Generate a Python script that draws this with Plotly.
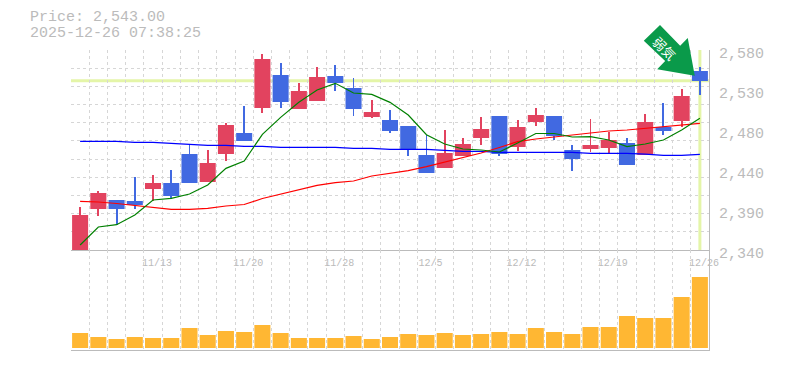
import plotly.graph_objects as go

title_price = "Price: 2,543.00"
title_time = "2025-12-26 07:38:25"
last_price = 2543
arrow_label = "弱気"

# candles: index along the time axis
candle_index = list(range(35))
opens = [2340, 2389.2, 2400, 2398.8, 2413.2, 2420.4, 2455.2, 2421.6, 2455.2, 2480.4,
         2510.4, 2550, 2509.2, 2518.8, 2548.8, 2534.4, 2499.6, 2496, 2488.8, 2454,
         2438.4, 2452.8, 2474.4, 2500.8, 2463.6, 2493.6, 2500.8, 2460, 2461.2, 2462.4,
         2468.4, 2454, 2487.6, 2494.8, 2554.8]
closes = [2382, 2408.4, 2389.2, 2394, 2420.4, 2404.8, 2420.4, 2444.4, 2490, 2470.8,
          2569.2, 2517.6, 2530.8, 2547.6, 2540.4, 2509.2, 2505.6, 2482.8, 2461.2, 2432.4,
          2456.4, 2467.2, 2485.2, 2455.2, 2487.6, 2502, 2476.8, 2449.2, 2466, 2472,
          2442, 2493.6, 2482.8, 2524.8, 2542.8]
highs = [2391.6, 2410.8, 2400, 2427.6, 2430, 2436, 2467.2, 2460, 2492.4, 2512.8,
         2575.2, 2564.4, 2540.4, 2559.6, 2562, 2546.4, 2520, 2508, 2488.8, 2478,
         2484, 2474.4, 2499.6, 2500.8, 2496, 2510.4, 2500.8, 2466, 2497.2, 2481.6,
         2474.4, 2503.2, 2516.4, 2533.2, 2559.6]
lows = [2340, 2380.8, 2370, 2389.2, 2398.8, 2401.2, 2420.4, 2421.6, 2446.8, 2470.8,
        2504.4, 2510.4, 2509.2, 2518.8, 2530.8, 2500.8, 2498.4, 2480.4, 2452.8, 2432.4,
        2438.4, 2452.8, 2466, 2452.8, 2458.8, 2488.8, 2472, 2434.8, 2457.6, 2455.2,
        2442, 2454, 2478, 2487.6, 2526]

ma_short = [2346, 2367.6, 2370.4, 2382, 2400, 2402, 2407.2, 2418, 2438, 2446.8,
            2478.8, 2499.2, 2517.2, 2532, 2540, 2528.4, 2526.8, 2517.2, 2502, 2478.4,
            2467.2, 2461.2, 2460, 2457.6, 2468.4, 2479.8, 2479.8, 2475.6, 2476, 2472,
            2464, 2467.2, 2472, 2484, 2498]
ma_mid = [2398.4, 2397.6, 2395.8, 2393.6, 2391.6, 2388.8, 2388.8, 2390, 2392.8, 2394.6,
          2401.8, 2407.2, 2412.6, 2417.6, 2420.8, 2422.8, 2428.8, 2431.6, 2435.2, 2440,
          2445.6, 2451.6, 2456.4, 2463, 2470, 2473.2, 2475.6, 2478, 2480, 2482.8,
          2484, 2486, 2488, 2490, 2492]
ma_long = [2470.4, 2470.4, 2470.4, 2469.2, 2469.2, 2468, 2466.8, 2465.6, 2465.6, 2464.4,
           2464.4, 2463.2, 2463.2, 2463.2, 2463.2, 2462, 2462, 2460.8, 2460.8, 2460.8,
           2459.6, 2458.4, 2458.4, 2457.2, 2457.2, 2457.2, 2457.2, 2457.2, 2456, 2456,
           2456, 2455, 2453.6, 2453.6, 2454.8]
volumes = [15000, 11000, 9000, 11000, 10000, 10000, 20000, 13000, 17000, 16000,
           23000, 15000, 10000, 10000, 10000, 12000, 9000, 11000,
           14000, 13000, 15000, 13000, 14000, 16000, 14000, 20000, 16000, 14000,
           21000, 21000, 32000, 30000, 30000, 51000, 71000]

date_positions = [4, 9, 14, 19, 24, 29, 34]
date_labels = ["11/13", "11/20", "11/28", "12/5", "12/12", "12/19", "12/26"]
price_ticks = [2580, 2532, 2484, 2436, 2388, 2340]
price_labels = ["2,580", "2,530", "2,480", "2,440", "2,390", "2,340"]
price_min, price_max = 2340, 2580
price_grid_count = 11

FONT = "Liberation Mono"
GREY = "#bbbbbb"
GRID = "#d6d6d6"
RED = "#e2435f"
BLUE = "#4169e1"
CROSS = "#e4f5a8"

x_grid = [i - 0.5 for i in range(36)]
y_grid = [price_min + (price_max - price_min) * i / price_grid_count for i in range(price_grid_count + 1)]
candle_colors = [RED if c >= o else BLUE for o, c in zip(opens, closes)]

fig = go.Figure()
for vals, col in [(ma_long, "#0000ff"), (ma_mid, "#ff0000"), (ma_short, "#008000")]:
    fig.add_trace(go.Scatter(x=candle_index, y=vals, mode="lines", line=dict(color=col, width=1.2),
                             xaxis="x", yaxis="y", showlegend=False, hoverinfo="skip"))
# wicks, then bodies
fig.add_trace(go.Bar(x=candle_index, base=lows, y=[h - l for h, l in zip(highs, lows)], width=0.05,
                     xaxis="x", yaxis="y", marker=dict(color=candle_colors, line=dict(width=0)), showlegend=False))
fig.add_trace(go.Bar(x=candle_index, base=[min(o, c) for o, c in zip(opens, closes)],
                     y=[abs(o - c) for o, c in zip(opens, closes)], width=0.88,
                     xaxis="x", yaxis="y", marker=dict(color=candle_colors, line=dict(width=0)), showlegend=False))
fig.add_trace(go.Bar(x=candle_index, y=volumes, xaxis="x2", yaxis="y2", marker=dict(color="#ffb733", line=dict(width=0)),
                     width=0.88, showlegend=False))

x_common = dict(range=[-0.5, 34.5], showline=True, linecolor=GREY, linewidth=1, showgrid=False, zeroline=False, ticks="",
                automargin=False,
                minor=dict(tickmode="array", tickvals=x_grid, showgrid=True, gridcolor=GRID, griddash="3px,3px", gridwidth=1, ticks=""))

fig.update_layout(
    width=769, height=354, autosize=False,
    margin=dict(l=63, r=68, t=42, b=12),
    paper_bgcolor="white", plot_bgcolor="white",
    barmode="overlay",
    xaxis=dict(domain=[0, 1], anchor="y", tickmode="array",
               tickvals=date_positions, ticktext=date_labels, ticklabelshift=4, ticklabelstandoff=3,
               tickfont=dict(family=FONT, size=10, color=GREY), **x_common),
    xaxis2=dict(domain=[0, 1], anchor="y2", matches="x", showticklabels=False, **x_common),
    yaxis=dict(domain=[1 / 3, 1], anchor="x", side="right", range=[price_min, price_max], tickmode="array",
               tickvals=price_ticks, ticktext=price_labels, showline=True, linecolor=GREY, linewidth=1,
               showgrid=False, zeroline=False, ticks="", ticklabelshift=3, ticklabelstandoff=6, automargin=False,
               tickfont=dict(family=FONT, size=15, color=GREY),
               minor=dict(tickmode="array", tickvals=y_grid, showgrid=True, gridcolor=GRID, griddash="3px,3px", gridwidth=1, ticks="")),
    yaxis2=dict(domain=[0, 1 / 3], anchor="x2", side="right", range=[-2000, 98000], showline=True, linecolor=GREY, linewidth=1,
                showgrid=False, zeroline=False, showticklabels=False, ticks="", automargin=False),
    shapes=[
        dict(type="line", xref="x", yref="y", x0=-0.5, x1=34.5, y0=last_price, y1=last_price,
             line=dict(color=CROSS, width=3), layer="below"),
        dict(type="line", xref="x", yref="y", x0=34, x1=34, y0=price_min, y1=price_max,
             line=dict(color=CROSS, width=3), layer="below"),
        dict(type="path", xref="paper", yref="paper", layer="above", fillcolor="#0a9a4a", line=dict(width=0),
             path="M 0.9232 1.0833 L 0.8978 1.0310 L 0.9313 0.9633 L 0.9188 0.9357 L 0.9777 0.9143 "
                  "L 0.9667 1.0400 L 0.9548 1.0143 Z"),
    ],
    annotations=[
        dict(xref="paper", yref="paper", x=-43 / 638, y=(350 - 18) / 300, text=title_price, showarrow=False,
             xanchor="left", yanchor="middle", font=dict(family=FONT, size=15, color=GREY)),
        dict(xref="paper", yref="paper", x=-43 / 638, y=(350 - 33) / 300, text=title_time, showarrow=False,
             xanchor="left", yanchor="middle", font=dict(family=FONT, size=15, color=GREY)),
        dict(xref="paper", yref="paper", x=(665 - 71) / 638, y=(350 - 48) / 300, text=arrow_label, showarrow=False,
             textangle=45, xanchor="center", yanchor="middle", font=dict(family="Noto Sans CJK JP", size=13, color="white")),
    ],
)
fig.write_html("out.html")
